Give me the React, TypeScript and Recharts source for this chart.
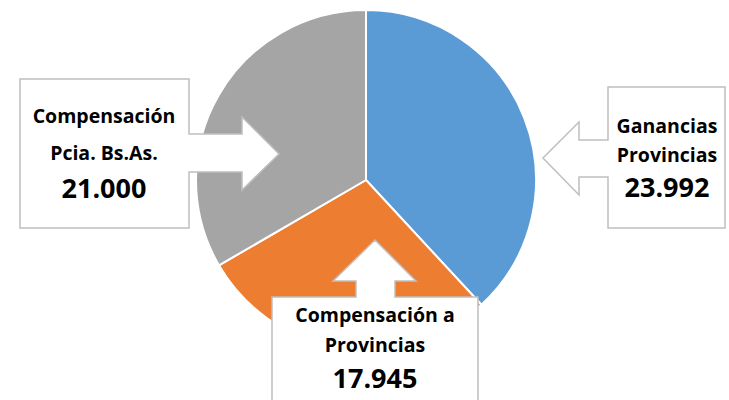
import { Cell, Pie, PieChart } from "recharts";

const names = ["Ganancias Provincias", "Compensación a Provincias", "Compensación Pcia. Bs.As."];
const values = [23.992, 17.945, 21.0];
const valueLabels = ["23.992", "17.945", "21.000"];
const labelLines = [["Ganancias", "Provincias"], ["Compensación a", "Provincias"], ["Compensación", "Pcia. Bs.As."]];
const colors = ["#5B9BD5", "#ED7D31", "#A5A5A5"];

const data = names.map((name, i) => ({ name, value: values[i] }));

// callout outlines (box + arrow), relative to pie center
const callouts = [
  {
    path: "M242,-93 L359,-93 L359,48 L242,48 L242,-3 L213,-3 L213,15 L177,-22 L213,-58 L213,-40 L242,-40 Z",
    tx: 301,
    lines: [-47, -18],
    num: 17,
  },
  {
    path: "M-94,117 L-10,117 L-10,101 L-33,101 L9,60 L50,101 L29,101 L29,117 L112,117 L112,222 L-94,222 Z",
    tx: 9,
    lines: [142, 172],
    num: 208,
  },
  {
    path: "M-346,-101 L-177,-101 L-177,-46 L-124,-46 L-124,-63 L-87,-26 L-124,10 L-124,-8 L-177,-8 L-177,48 L-346,48 Z",
    tx: -262,
    lines: [-57, -20],
    num: 18,
  },
];

const font = "'Open Sans', sans-serif";

function Callout({ cx, cy, index }: any) {
  const c = callouts[index];
  return (
    <g>
      <path d={c.path} transform={`translate(${cx},${cy})`} fill="#fff" stroke="#BFBFBF" strokeWidth={1.5} />
      {labelLines[index].map((t, j) => (
        <text key={j} x={cx + c.tx} y={cy + c.lines[j]} textAnchor="middle" fontFamily={font} fontWeight={700} fontSize={19.5} fill="#000">
          {t}
        </text>
      ))}
      <text x={cx + c.tx} y={cy + c.num} textAnchor="middle" fontFamily={font} fontWeight={700} fontSize={27} fill="#000">
        {valueLabels[index]}
      </text>
    </g>
  );
}

export default function App() {
  return (
    <div style={{ position: "absolute", left: 0, top: 0, width: 729, height: 400, background: "#fff" }}>
      <PieChart width={729} height={400} margin={{ top: 0, right: 0, bottom: 0, left: 0 }}>
        <Pie
          data={data}
          dataKey="value"
          nameKey="name"
          cx={366}
          cy={180}
          outerRadius={170}
          startAngle={90}
          endAngle={-270}
          stroke="#fff"
          strokeWidth={2}
          label={Callout}
          labelLine={false}
          isAnimationActive={false}
        >
          {data.map((d, i) => (
            <Cell key={d.name} fill={colors[i]} />
          ))}
        </Pie>
      </PieChart>
    </div>
  );
}
